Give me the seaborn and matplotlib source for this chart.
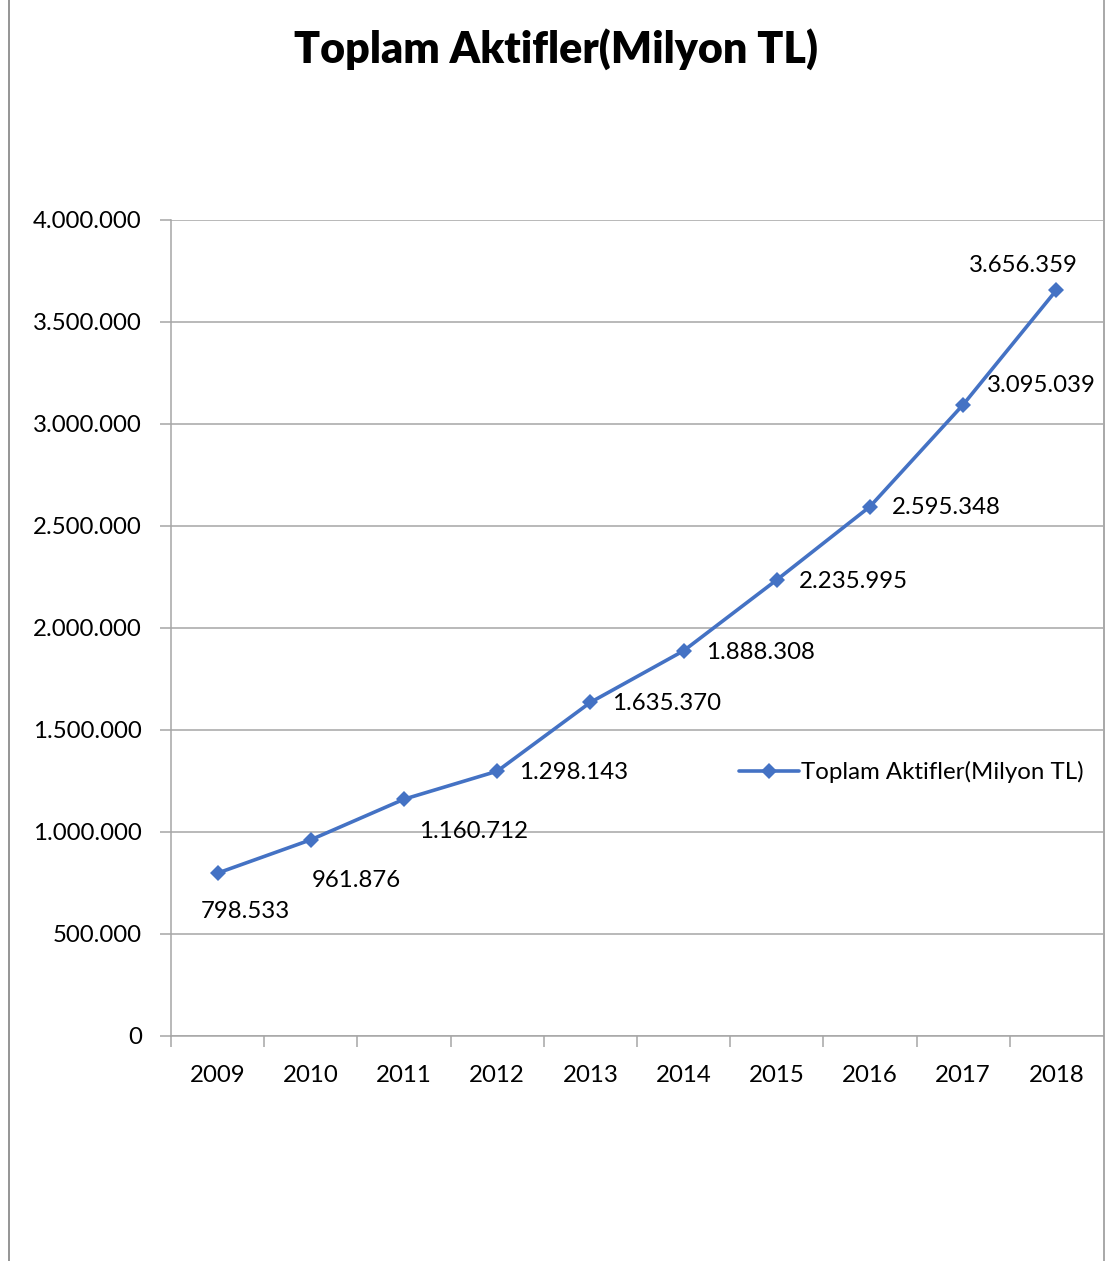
import matplotlib
matplotlib.use("Agg")
import matplotlib.pyplot as plt
from matplotlib.lines import Line2D
from matplotlib.ticker import FixedLocator, FuncFormatter
import seaborn as sns
import pandas as pd

# Total assets by year (million TL)
years = ["2009", "2010", "2011", "2012", "2013", "2014", "2015", "2016", "2017", "2018"]
assets = [798533, 961876, 1160712, 1298143, 1635370, 1888308, 2235995, 2595348, 3095039, 3656359]
series_name = "Toplam Aktifler(Milyon TL)"
y_ticks = [0, 500000, 1000000, 1500000, 2000000, 2500000, 3000000, 3500000, 4000000]

# label offsets (points) relative to each marker
label_offsets = [(20, -28), (33, -29), (50, -23), (55, -1), (55, -1), (55, -1), (55, -1), (55, -1), (56, 14), (-24, 18)]

sns.set_theme(style="white")
plt.rcParams["font.family"] = ["Lato", "DejaVu Sans"]
plt.rcParams["text.color"] = "black"

W, H = 1105, 1261
fig = plt.figure(figsize=(W / 100, H / 100), dpi=100)
ax = fig.add_axes([171 / W, 1 - 1036 / H, (1103 - 171) / W, (1036 - 220) / H])

df = pd.DataFrame({"year": years, "value": assets, "pos": range(len(years))})
blue = "#4472C4"
sns.lineplot(data=df, x="pos", y="value", ax=ax, color=blue, linewidth=2.6,
             marker="D", markersize=8, markeredgewidth=0, label=series_name)

ax.set_xlim(-0.5, len(years) - 0.5)
ax.set_ylim(0, 4000000)
ax.set_xlabel("")
ax.set_ylabel("")

grid_c = "#a6a6a6"
ax.yaxis.set_major_locator(FixedLocator(y_ticks))
ax.yaxis.set_major_formatter(FuncFormatter(lambda v, p: f"{int(v):,}".replace(",", ".")))
ax.grid(axis="y", color=grid_c, linewidth=1.1)
ax.set_axisbelow(True)

fs = 17.3
ax.set_xticks(range(len(years)))
ax.set_xticklabels(years)
ax.set_xticks([i - 0.5 for i in range(len(years))], minor=True)
ax.tick_params(axis="x", which="major", length=0, pad=21, labelsize=fs, colors="black")
ax.tick_params(axis="x", which="minor", length=8, width=1.1, color=grid_c, direction="out", bottom=True)
ax.tick_params(axis="y", which="major", length=8, width=1.1, color=grid_c, pad=13, labelsize=fs,
               colors="black", left=True)

for s in ["top", "right"]:
    ax.spines[s].set_visible(False)
for s in ["left", "bottom"]:
    ax.spines[s].set_color(grid_c)
    ax.spines[s].set_linewidth(1.1)

for i, v in enumerate(assets):
    dx, dy = label_offsets[i]
    ax.annotate(f"{v:,}".replace(",", "."), xy=(i, v), xytext=(dx, dy), textcoords="offset points",
                ha="center", va="center", fontsize=fs, color="black")

leg = ax.legend(loc="center left", bbox_to_anchor=(558 / (1103 - 171), (1036 - 772) / (1036 - 220)),
                frameon=False, fontsize=fs, handlelength=2.5, handletextpad=0.1, borderaxespad=0)
for t in leg.get_texts():
    t.set_color("black")

fig.text(556 / W, 1 - 49 / H, series_name, ha="center", va="center", fontsize=31,
         fontweight="heavy", color="black")

# chart frame edges
fig.add_artist(Line2D([8.5 / W, 8.5 / W], [0, 1], transform=fig.transFigure, color="#8c8c8c", linewidth=1.3))
fig.add_artist(Line2D([1104 / W, 1104 / W], [0, 1], transform=fig.transFigure, color="#9a9a9a", linewidth=1.2))

fig.savefig("out.png", dpi=100)
